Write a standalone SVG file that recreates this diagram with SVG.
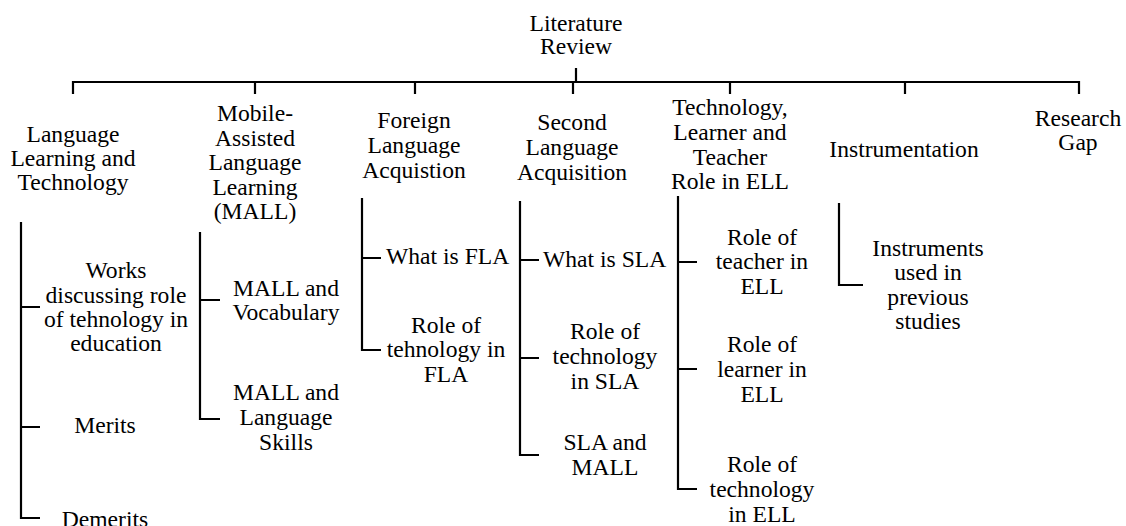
<svg xmlns="http://www.w3.org/2000/svg" width="1126" height="526" viewBox="0 0 1126 526">
<style>
text{font-family:"Liberation Serif","Times New Roman",serif;font-size:23.6px;fill:#000;text-anchor:middle}
.s{text-anchor:start}
.ln{fill:none;stroke:#000;stroke-width:2.2;stroke-linejoin:miter;stroke-linecap:butt}
</style>
<rect width="1126" height="526" fill="#fff"/>
<g id="connectors" class="ln">
<path d="M73 94V82H1079V94M255 82V94M415 82V94M573 82V94M730 82V94M905 82V94M576 68V82"/>
<path d="M21 222V518H40M21 307H40M21 427H40"/>
<path d="M200 232V419H220M200 300H220"/>
<path d="M362 198V350H381M362 258H381"/>
<path d="M520 201V455H539M520 260H539M520 358H539"/>
<path d="M678 196V489H697M678 262H697M678 369H697"/>
<path d="M839 203V285H863"/>
</g>
<g id="root"><text x="576" y="31">Literature</text><text x="576" y="54">Review</text></g>
<g id="llt"><text x="73" y="142">Language</text><text x="73" y="166">Learning and</text><text x="73" y="190">Technology</text></g>
<g id="mall"><text x="255" y="121">Mobile-</text><text x="255" y="146">Assisted</text><text x="255" y="170">Language</text><text x="255" y="195">Learning</text><text x="255" y="219">(MALL)</text></g>
<g id="fla"><text x="414" y="128">Foreign</text><text x="414" y="153">Language</text><text x="414" y="178">Acquistion</text></g>
<g id="sla"><text x="572" y="130">Second</text><text x="572" y="155">Language</text><text x="572" y="180">Acquisition</text></g>
<g id="ell"><text x="730" y="115">Technology,</text><text x="730" y="140">Learner and</text><text x="730" y="165">Teacher</text><text x="730" y="189">Role in ELL</text></g>
<g id="instr"><text x="904" y="157">Instrumentation</text></g>
<g id="gap"><text x="1078" y="126">Research</text><text x="1078" y="150">Gap</text></g>
<g id="works"><text x="116" y="278">Works</text><text x="116" y="303">discussing role</text><text x="116" y="327">of tehnology in</text><text x="116" y="351">education</text></g>
<g id="merits"><text x="105" y="433">Merits</text></g>
<g id="demerits"><text x="105" y="527">Demerits</text></g>
<g id="mall-vocab"><text x="286" y="296">MALL and</text><text x="286" y="320">Vocabulary</text></g>
<g id="mall-skills"><text x="286" y="400">MALL and</text><text x="286" y="425">Language</text><text x="286" y="450">Skills</text></g>
<g id="what-fla"><text class="s" x="386" y="264">What is FLA</text></g>
<g id="role-fla"><text x="446" y="333">Role of</text><text x="446" y="357">tehnology in</text><text x="446" y="382">FLA</text></g>
<g id="what-sla"><text class="s" x="543" y="267">What is SLA</text></g>
<g id="role-sla"><text x="605" y="339">Role of</text><text x="605" y="364">technology</text><text x="605" y="389">in SLA</text></g>
<g id="sla-mall"><text x="605" y="450">SLA and</text><text x="605" y="475">MALL</text></g>
<g id="teacher"><text x="762" y="245">Role of</text><text x="762" y="269">teacher in</text><text x="762" y="294">ELL</text></g>
<g id="learner"><text x="762" y="352">Role of</text><text x="762" y="377">learner in</text><text x="762" y="402">ELL</text></g>
<g id="tech-ell"><text x="762" y="472">Role of</text><text x="762" y="497">technology</text><text x="762" y="522">in ELL</text></g>
<g id="instruments"><text x="928" y="256">Instruments</text><text x="928" y="280">used in</text><text x="928" y="305">previous</text><text x="928" y="329">studies</text></g>
</svg>
